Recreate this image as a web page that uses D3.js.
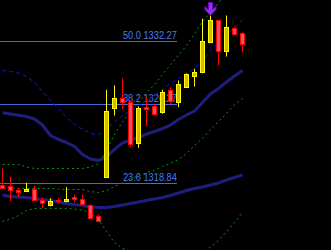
<!DOCTYPE html>
<html><head><meta charset="utf-8">
<script src="https://cdn.jsdelivr.net/npm/d3@7"></script>
<style>html,body{margin:0;padding:0;background:#000;overflow:hidden}svg{display:block}</style>
</head><body><svg id="c" width="331" height="250"></svg>
<script>
// ---- data ----
const opens  = [1318.72,1318.65,1318.24,1318.11,1318.34,1317.30,1316.79,1317.30,1317.17,1317.54,1317.39,1316.83,1315.72,1319.50,1326.00,1326.95,1326.55,1322.65,1326.12,1326.19,1325.58,1327.70,1326.53,1328.01,1328.99,1329.43,1332.27,1334.26,1331.35,1333.50,1333.06];
const highs  = [1320.26,1319.50,1318.46,1318.91,1318.65,1317.52,1317.45,1317.45,1318.49,1317.80,1317.80,1316.85,1315.91,1327.70,1328.11,1328.80,1326.69,1326.12,1327.00,1326.38,1327.70,1327.95,1328.58,1329.24,1329.69,1334.42,1335.20,1334.35,1334.73,1333.69,1333.15];
const lows   = [1318.27,1317.17,1317.52,1318.08,1317.23,1316.54,1316.69,1316.92,1317.07,1317.07,1316.85,1315.53,1315.25,1319.41,1325.27,1325.91,1322.27,1322.22,1324.26,1325.27,1325.43,1326.38,1326.06,1327.89,1328.01,1329.27,1332.11,1330.00,1330.85,1332.81,1331.26];
const closes = [1318.40,1318.18,1318.02,1318.34,1317.30,1316.98,1317.23,1317.17,1317.39,1317.36,1316.92,1315.60,1315.31,1325.65,1326.95,1326.57,1322.60,1326.00,1325.87,1325.43,1327.48,1326.62,1328.27,1329.15,1329.43,1332.36,1334.26,1331.35,1333.62,1332.96,1332.05];

const maSlow = [1325.53,1325.41,1325.29,1325.18,1324.94,1324.37,1323.38,1323.00,1322.72,1322.34,1321.58,1321.16,1321.02,1321.35,1322.06,1322.67,1322.95,1323.19,1323.52,1323.76,1324.04,1324.37,1324.89,1325.32,1325.70,1326.50,1327.31,1327.83,1328.44,1329.01,1329.53];
const maFast = [1317.75,1317.61,1317.56,1317.52,1317.42,1317.33,1317.23,1317.09,1316.95,1316.85,1316.76,1316.62,1316.57,1316.57,1316.67,1316.81,1316.95,1317.09,1317.23,1317.37,1317.52,1317.71,1317.94,1318.18,1318.37,1318.51,1318.70,1318.89,1319.17,1319.41,1319.66];
const bandBlue = [1329.53,1329.43,1329.29,1328.96,1328.39,1327.54,1326.69,1325.93,1325.08,1324.42,1323.99,1323.57,1323.43,1323.95,1324.70,1325.27,1325.74,1326.22,1326.69,1327.16,1327.73,1328.30,1328.77,1329.24,1329.72,1330.47,1331.42,1332.18,1332.84,1333.59,1334.35];
const bandGreenA = [1320.64,1320.64,1320.64,1320.40,1320.26,1320.26,1320.26,1320.26,1320.26,1320.26,1320.26,1320.40,1320.73,1321.96,1323.47,1324.66,1325.60,1326.50,1327.40,1328.20,1329.15,1330.09,1330.95,1331.89,1332.98,1334.16,1335.01,1335.91,1336.81,1337.66,1338.51];
const bandGreenB = [1318.46,1318.41,1318.37,1318.37,1318.37,1318.37,1318.37,1318.32,1318.27,1318.27,1318.27,1318.08,1317.99,1318.18,1318.56,1318.93,1319.31,1319.55,1319.88,1320.07,1320.45,1320.73,1321.11,1321.68,1322.43,1323.10,1323.95,1324.70,1325.46,1326.31,1326.88];
const bandGreenC = [1315.25,1315.48,1315.81,1316.29,1316.48,1316.48,1316.48,1316.48,1316.48,1316.43,1316.33,1316.05,1315.44,1314.30,1313.26,1312.69,1312.46,1312.31,1312.13,1311.94,1311.75,1311.65,1311.65,1311.75,1311.98,1312.31,1312.83,1313.45,1314.30,1315.15,1316.10];

const fibLevels = [23.6, 38.2, 50.0];
const fibPrices = [1318.84, 1326.27, 1332.27];
const fibEndBar = 21.8;
const signalBars = [26];
const signalPrices = [1334.73];

// ---- drawing ----
const svg = d3.select("#c");
svg.append("rect").attr("width",331).attr("height",250).attr("fill","#000");

const n = opens.length;
const x = d3.scaleLinear().domain([0, n-1]).range([2.5, 242.5]);
const y = d3.scaleLinear().domain([1318.84, 1332.27]).range([183.5, 41.5]);

// Fibonacci levels
const fg = svg.append("g");
fibLevels.forEach((lv,k)=>{
  const yy = Math.round(y(fibPrices[k]) - 0.5) + 0.5;
  fg.append("line").attr("x1",0).attr("x2",x(fibEndBar)).attr("y1",yy).attr("y2",yy)
    .attr("stroke","#4169e1").attr("stroke-width",1).attr("shape-rendering","crispEdges");
  fg.append("text").attr("x",x(fibEndBar)).attr("y",yy-2.5).attr("text-anchor","end")
    .attr("font-family","'Liberation Sans', Arial, sans-serif").attr("font-size","10.5px")
    .attr("textLength",54).attr("lengthAdjust","spacingAndGlyphs")
    .attr("fill","#4a7cec")
    .text(lv.toFixed(1) + " " + fibPrices[k].toFixed(2));
});

const line = d3.line().x((d,i)=>x(i)).y(d=>y(d));
function drawLine(arr, color, w, dash){
  const p = svg.append("path").datum(arr).attr("d", line).attr("fill","none")
    .attr("stroke",color).attr("stroke-width",w).attr("stroke-linejoin","round");
  if (dash) p.attr("stroke-dasharray", dash);
  return p;
}
drawLine(bandGreenA, "#0b960b", 1, "2,3");
drawLine(bandGreenB, "#0b960b", 1, "2,3");
drawLine(bandGreenC, "#0b960b", 1, "2,3");
drawLine(bandBlue, "#1414e6", 1, "4,3");
drawLine(maSlow, "#1e1e80", 3);
drawLine(maFast, "#1e1e80", 3);

// candles
const cg = svg.append("g");
d3.range(n).forEach(i=>{
  const up = closes[i] >= opens[i];
  const cx = x(i);
  const wickCol = up ? "#ffff00" : "#ff0000";
  cg.append("line").attr("x1",cx).attr("x2",cx).attr("y1",y(highs[i])).attr("y2",y(lows[i]))
    .attr("stroke",wickCol).attr("stroke-width",1);
  const top = y(Math.max(opens[i],closes[i]));
  const bot = y(Math.min(opens[i],closes[i]));
  const t = Math.round(top)+0.5, b = Math.max(Math.round(bot)+0.5, t+1);
  cg.append("rect").attr("x",cx-2).attr("y",t).attr("width",4).attr("height",b-t)
    .attr("fill", up ? "#d9b800" : "#e8506e")
    .attr("stroke", wickCol).attr("stroke-width",1).attr("shape-rendering","crispEdges");
});

// signal arrows
signalBars.forEach((b,k)=>{
  const tx = x(b), ty = y(signalPrices[k]);
  const pts = [[0,0],[-5.5,-6],[-5.5,-9],[-2,-5.5],[-2,-13],[2,-13],[2,-5.5],[5.5,-9],[5.5,-6]];
  svg.append("path").attr("d", "M" + pts.map(p=>[tx+p[0],ty+p[1]].join(",")).join("L") + "Z")
    .attr("fill","#9a2cf0").attr("stroke","#6a0cc8").attr("stroke-width",1);
});
</script>
</body></html>
